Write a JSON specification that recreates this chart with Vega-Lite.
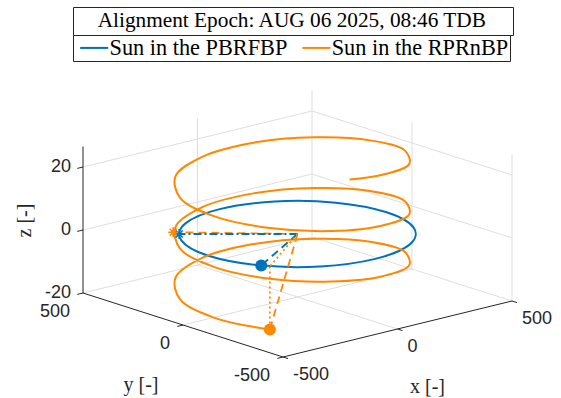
{
  "$schema": "https://vega.github.io/schema/vega-lite/v6.json",
  "width": 561,
  "height": 398,
  "autosize": "none",
  "padding": 0,
  "background": "white",
  "config": {"view": {"stroke": null}},
  "datasets": {
    "grid": [
      {"x1": 0, "y1": -500, "z1": -20, "x2": 0, "y2": 500, "z2": -20},
      {"x1": -500, "y1": 0, "z1": -20, "x2": 500, "y2": 0, "z2": -20},
      {"x1": 500, "y1": -500, "z1": -20, "x2": 500, "y2": 500, "z2": -20},
      {"x1": -500, "y1": 500, "z1": -20, "x2": 500, "y2": 500, "z2": -20},
      {"x1": 0, "y1": 500, "z1": -20, "x2": 0, "y2": 500, "z2": 26.5},
      {"x1": 500, "y1": 500, "z1": -20, "x2": 500, "y2": 500, "z2": 26.5},
      {"x1": -500, "y1": 500, "z1": 0, "x2": 500, "y2": 500, "z2": 0},
      {"x1": -500, "y1": 500, "z1": 20, "x2": 500, "y2": 500, "z2": 20},
      {"x1": 500, "y1": 0, "z1": -20, "x2": 500, "y2": 0, "z2": 26.5},
      {"x1": 500, "y1": -500, "z1": -20, "x2": 500, "y2": -500, "z2": 26.5},
      {"x1": 500, "y1": -500, "z1": 0, "x2": 500, "y2": 500, "z2": 0},
      {"x1": 500, "y1": -500, "z1": 20, "x2": 500, "y2": 500, "z2": 20}
    ],
    "axes": [
      {"x1": -500, "y1": 500, "z1": -20, "x2": -500, "y2": 500, "z2": 26.5},
      {"x1": -500, "y1": -500, "z1": -20, "x2": -500, "y2": 500, "z2": -20},
      {"x1": -500, "y1": -500, "z1": -20, "x2": 500, "y2": -500, "z2": -20},
      {"x1": -500, "y1": -500, "z1": -20, "x2": -500, "y2": -525, "z2": -20},
      {"x1": 0, "y1": -500, "z1": -20, "x2": 0, "y2": -525, "z2": -20},
      {"x1": 500, "y1": -500, "z1": -20, "x2": 500, "y2": -525, "z2": -20},
      {"x1": -500, "y1": -500, "z1": -20, "x2": -525, "y2": -500, "z2": -20},
      {"x1": -500, "y1": 0, "z1": -20, "x2": -525, "y2": 0, "z2": -20},
      {"x1": -500, "y1": 500, "z1": -20, "x2": -525, "y2": 500, "z2": -20},
      {"x1": -500, "y1": 500, "z1": 0, "x2": -525, "y2": 500, "z2": 0},
      {"x1": -500, "y1": 500, "z1": 20, "x2": -525, "y2": 500, "z2": 20}
    ],
    "orbit": [
      {"series": "Sun in the PBRFBP", "t": 0, "x": 389, "y": 0, "z": 0},
      {"series": "Sun in the PBRFBP", "t": 1, "x": 337, "y": 195, "z": 0},
      {"series": "Sun in the PBRFBP", "t": 2, "x": 195, "y": 337, "z": 0},
      {"series": "Sun in the PBRFBP", "t": 3, "x": 0, "y": 389, "z": 0},
      {"series": "Sun in the PBRFBP", "t": 4, "x": -195, "y": 337, "z": 0},
      {"series": "Sun in the PBRFBP", "t": 5, "x": -337, "y": 195, "z": 0},
      {"series": "Sun in the PBRFBP", "t": 6, "x": -389, "y": 0, "z": 0},
      {"series": "Sun in the PBRFBP", "t": 7, "x": -337, "y": -195, "z": 0},
      {"series": "Sun in the PBRFBP", "t": 8, "x": -195, "y": -337, "z": 0},
      {"series": "Sun in the PBRFBP", "t": 9, "x": 0, "y": -389, "z": 0},
      {"series": "Sun in the PBRFBP", "t": 10, "x": 195, "y": -337, "z": 0},
      {"series": "Sun in the PBRFBP", "t": 11, "x": 337, "y": -195, "z": 0},
      {"series": "Sun in the RPRnBP", "t": 0, "x": -319, "y": -227, "z": -20},
      {"series": "Sun in the RPRnBP", "t": 1, "x": -398, "y": -41, "z": -18.7},
      {"series": "Sun in the RPRnBP", "t": 2, "x": -373, "y": 161, "z": -17.3},
      {"series": "Sun in the RPRnBP", "t": 3, "x": -251, "y": 323, "z": -16.0},
      {"series": "Sun in the RPRnBP", "t": 4, "x": -65, "y": 402, "z": -14.6},
      {"series": "Sun in the RPRnBP", "t": 5, "x": 137, "y": 377, "z": -13.3},
      {"series": "Sun in the RPRnBP", "t": 6, "x": 299, "y": 255, "z": -12.0},
      {"series": "Sun in the RPRnBP", "t": 7, "x": 378, "y": 69, "z": -10.6},
      {"series": "Sun in the RPRnBP", "t": 8, "x": 353, "y": -133, "z": -9.3},
      {"series": "Sun in the RPRnBP", "t": 9, "x": 231, "y": -295, "z": -7.9},
      {"series": "Sun in the RPRnBP", "t": 10, "x": 45, "y": -374, "z": -6.6},
      {"series": "Sun in the RPRnBP", "t": 11, "x": -157, "y": -349, "z": -5.2},
      {"series": "Sun in the RPRnBP", "t": 12, "x": -319, "y": -227, "z": -3.9},
      {"series": "Sun in the RPRnBP", "t": 13, "x": -398, "y": -41, "z": -2.6},
      {"series": "Sun in the RPRnBP", "t": 14, "x": -373, "y": 161, "z": -1.2},
      {"series": "Sun in the RPRnBP", "t": 15, "x": -251, "y": 323, "z": 0.1},
      {"series": "Sun in the RPRnBP", "t": 16, "x": -65, "y": 402, "z": 1.5},
      {"series": "Sun in the RPRnBP", "t": 17, "x": 137, "y": 377, "z": 2.8},
      {"series": "Sun in the RPRnBP", "t": 18, "x": 299, "y": 255, "z": 4.1},
      {"series": "Sun in the RPRnBP", "t": 19, "x": 378, "y": 69, "z": 5.5},
      {"series": "Sun in the RPRnBP", "t": 20, "x": 353, "y": -133, "z": 6.8},
      {"series": "Sun in the RPRnBP", "t": 21, "x": 231, "y": -295, "z": 8.2},
      {"series": "Sun in the RPRnBP", "t": 22, "x": 45, "y": -374, "z": 9.5},
      {"series": "Sun in the RPRnBP", "t": 23, "x": -157, "y": -349, "z": 10.8},
      {"series": "Sun in the RPRnBP", "t": 24, "x": -319, "y": -227, "z": 12.2},
      {"series": "Sun in the RPRnBP", "t": 25, "x": -398, "y": -41, "z": 13.5},
      {"series": "Sun in the RPRnBP", "t": 26, "x": -373, "y": 161, "z": 14.9},
      {"series": "Sun in the RPRnBP", "t": 27, "x": -251, "y": 323, "z": 16.2},
      {"series": "Sun in the RPRnBP", "t": 28, "x": -65, "y": 402, "z": 17.5},
      {"series": "Sun in the RPRnBP", "t": 29, "x": 137, "y": 377, "z": 18.9},
      {"series": "Sun in the RPRnBP", "t": 30, "x": 299, "y": 255, "z": 20.2},
      {"series": "Sun in the RPRnBP", "t": 31, "x": 378, "y": 69, "z": 21.6},
      {"series": "Sun in the RPRnBP", "t": 32, "x": 353, "y": -133, "z": 22.9},
      {"series": "Sun in the RPRnBP", "t": 33, "x": 231, "y": -295, "z": 24.2},
      {"series": "Sun in the RPRnBP", "t": 34, "x": 45, "y": -374, "z": 25.6},
      {"series": "Sun in the RPRnBP", "t": 35, "x": -95, "y": -369, "z": 26.5}
    ],
    "rays": [
      {"series": "Sun in the RPRnBP", "style": "dash", "x1": 0, "y1": 0, "z1": 0, "x2": -306, "y2": 271, "z2": 0.5},
      {"series": "Sun in the PBRFBP", "style": "dashdot", "x1": 0, "y1": 0, "z1": 0, "x2": -293, "y2": 256, "z2": 0},
      {"series": "Sun in the PBRFBP", "style": "dash", "x1": 0, "y1": 0, "z1": 0, "x2": -333, "y2": -200, "z2": 0},
      {"series": "Sun in the RPRnBP", "style": "dash", "x1": 0, "y1": 0, "z1": 0, "x2": -319, "y2": -227, "z2": -20},
      {"series": "Sun in the RPRnBP", "style": "dot", "x1": 0, "y1": 0, "z1": 0, "x2": -319, "y2": -227, "z2": 0},
      {"series": "Sun in the RPRnBP", "style": "dot", "x1": -319, "y1": -227, "z1": 0, "x2": -319, "y2": -227, "z2": -20}
    ],
    "markers": [
      {"series": "Sun in the PBRFBP", "kind": "dot", "x": -333, "y": -200, "z": 0},
      {"series": "Sun in the RPRnBP", "kind": "dot", "x": -319, "y": -227, "z": -20},
      {"series": "Sun in the PBRFBP", "kind": "star", "x": -293, "y": 256, "z": 0},
      {"series": "Sun in the RPRnBP", "kind": "star", "x": -306, "y": 271, "z": 0.5}
    ],
    "ticklabels": [
      {"axis": "z", "label": "-20", "x": -500, "y": 500, "z": -20},
      {"axis": "z", "label": "0", "x": -500, "y": 500, "z": 0},
      {"axis": "z", "label": "20", "x": -500, "y": 500, "z": 20},
      {"axis": "y", "label": "-500", "x": -500, "y": -500, "z": -20},
      {"axis": "y", "label": "0", "x": -500, "y": 0, "z": -20},
      {"axis": "y", "label": "500", "x": -500, "y": 500, "z": -20},
      {"axis": "x", "label": "-500", "x": -500, "y": -500, "z": -20},
      {"axis": "x", "label": "0", "x": 0, "y": -500, "z": -20},
      {"axis": "x", "label": "500", "x": 500, "y": -500, "z": -20}
    ],
    "titles": [
      {"axis": "x", "label": "x [-]", "x": 0, "y": -500, "z": -20},
      {"axis": "y", "label": "y [-]", "x": -500, "y": 0, "z": -20},
      {"axis": "z", "label": "z [-]", "x": -500, "y": 500, "z": 3}
    ]
  },
  "encoding": {
    "x": {"field": "u", "type": "quantitative", "scale": {"domain": [-297.5, 263.5], "nice": false, "zero": false}, "axis": null},
    "y": {"field": "v", "type": "quantitative", "scale": {"domain": [-164, 234], "nice": false, "zero": false}, "axis": null}
  },
  "layer": [
    {
      "data": {"name": "grid"},
      "transform": [
        {"calculate": "0.229*datum.x1 - 0.2*datum.y1", "as": "u"},
        {"calculate": "0.056*datum.x1 + 0.064*datum.y1 + 3.15*datum.z1", "as": "v"},
        {"calculate": "0.229*datum.x2 - 0.2*datum.y2", "as": "u2"},
        {"calculate": "0.056*datum.x2 + 0.064*datum.y2 + 3.15*datum.z2", "as": "v2"}
      ],
      "mark": {"type": "rule", "color": "#DEDEDE", "strokeWidth": 1},
      "encoding": {"x2": {"field": "u2"}, "y2": {"field": "v2"}}
    },
    {
      "data": {"name": "axes"},
      "transform": [
        {"calculate": "0.229*datum.x1 - 0.2*datum.y1", "as": "u"},
        {"calculate": "0.056*datum.x1 + 0.064*datum.y1 + 3.15*datum.z1", "as": "v"},
        {"calculate": "0.229*datum.x2 - 0.2*datum.y2", "as": "u2"},
        {"calculate": "0.056*datum.x2 + 0.064*datum.y2 + 3.15*datum.z2", "as": "v2"}
      ],
      "mark": {"type": "rule", "color": "#262626", "strokeWidth": 1},
      "encoding": {"x2": {"field": "u2"}, "y2": {"field": "v2"}}
    },
    {
      "data": {"name": "orbit"},
      "transform": [
        {"filter": "datum.series === 'Sun in the PBRFBP'"},
        {"calculate": "0.229*datum.x - 0.2*datum.y", "as": "u"},
        {"calculate": "0.056*datum.x + 0.064*datum.y + 3.15*datum.z", "as": "v"}
      ],
      "mark": {"type": "line", "interpolate": "cardinal-closed", "tension": 0, "strokeWidth": 2},
      "encoding": {
        "order": {"field": "t", "type": "quantitative"},
        "color": {"field": "series", "type": "nominal",
          "scale": {"domain": ["Sun in the PBRFBP", "Sun in the RPRnBP"], "range": ["#0072BD", "#FF8800"]},
          "legend": {"orient": "none", "legendX": 73, "legendY": 35, "direction": "horizontal", "title": null, "padding": 1.5, "strokeColor": "#262626", "fillColor": "white", "symbolType": "M-2.8,0H2.8", "symbolSize": 100, "symbolOffset": 8.5, "symbolStrokeWidth": 2, "labelFont": "Liberation Serif", "labelFontSize": 22.3, "labelColor": "black", "labelOffset": 4.2, "columnPadding": 9.2, "labelLimit": 1000}}
      }
    },
    {
      "data": {"name": "orbit"},
      "transform": [
        {"filter": "datum.series === 'Sun in the RPRnBP'"},
        {"calculate": "0.229*datum.x - 0.2*datum.y", "as": "u"},
        {"calculate": "0.056*datum.x + 0.064*datum.y + 3.15*datum.z", "as": "v"}
      ],
      "mark": {"type": "line", "interpolate": "catmull-rom", "strokeWidth": 2},
      "encoding": {
        "order": {"field": "t", "type": "quantitative"},
        "color": {"field": "series", "type": "nominal",
          "scale": {"domain": ["Sun in the PBRFBP", "Sun in the RPRnBP"], "range": ["#0072BD", "#FF8800"]},
          "legend": {"orient": "none", "legendX": 73, "legendY": 35, "direction": "horizontal", "title": null, "padding": 1.5, "strokeColor": "#262626", "fillColor": "white", "symbolType": "M-2.8,0H2.8", "symbolSize": 100, "symbolOffset": 8.5, "symbolStrokeWidth": 2, "labelFont": "Liberation Serif", "labelFontSize": 22.3, "labelColor": "black", "labelOffset": 4.2, "columnPadding": 9.2, "labelLimit": 1000}}
      }
    },
    {
      "data": {"name": "rays"},
      "transform": [
        {"calculate": "0.229*datum.x1 - 0.2*datum.y1", "as": "u"},
        {"calculate": "0.056*datum.x1 + 0.064*datum.y1 + 3.15*datum.z1", "as": "v"},
        {"calculate": "0.229*datum.x2 - 0.2*datum.y2", "as": "u2"},
        {"calculate": "0.056*datum.x2 + 0.064*datum.y2 + 3.15*datum.z2", "as": "v2"}
      ],
      "mark": {"type": "rule", "strokeWidth": 1.8},
      "encoding": {
        "x2": {"field": "u2"}, "y2": {"field": "v2"},
        "stroke": {"field": "series", "type": "nominal", "scale": {"domain": ["Sun in the PBRFBP", "Sun in the RPRnBP"], "range": ["#0072BD", "#FF8800"]}, "legend": null},
        "strokeDash": {"field": "style", "type": "nominal", "scale": {"domain": ["dash", "dashdot", "dot"], "range": [[8, 5], [8, 3, 2, 3], [2, 3]]}, "legend": null}
      }
    },
    {
      "data": {"name": "markers"},
      "transform": [
        {"filter": "datum.kind === 'dot'"},
        {"calculate": "0.229*datum.x - 0.2*datum.y", "as": "u"},
        {"calculate": "0.056*datum.x + 0.064*datum.y + 3.15*datum.z", "as": "v"}
      ],
      "mark": {"type": "point", "filled": true, "size": 144, "opacity": 1, "strokeWidth": 0},
      "encoding": {
        "fill": {"field": "series", "type": "nominal", "scale": {"domain": ["Sun in the PBRFBP", "Sun in the RPRnBP"], "range": ["#0072BD", "#FF8800"]}, "legend": null}
      }
    },
    {
      "data": {"name": "markers"},
      "transform": [
        {"filter": "datum.kind === 'star'"},
        {"calculate": "0.229*datum.x - 0.2*datum.y", "as": "u"},
        {"calculate": "0.056*datum.x + 0.064*datum.y + 3.15*datum.z", "as": "v"}
      ],
      "mark": {"type": "point", "filled": false, "size": 100, "opacity": 1, "strokeWidth": 1.6, "shape": "M-1,0L1,0M0,-1L0,1M-0.7,-0.7L0.7,0.7M-0.7,0.7L0.7,-0.7"},
      "encoding": {
        "stroke": {"field": "series", "type": "nominal", "scale": {"domain": ["Sun in the PBRFBP", "Sun in the RPRnBP"], "range": ["#0072BD", "#FF8800"]}, "legend": null}
      }
    },
    {
      "data": {"name": "ticklabels"},
      "transform": [
        {"filter": "datum.axis === 'z'"},
        {"calculate": "0.229*datum.x - 0.2*datum.y", "as": "u"},
        {"calculate": "0.056*datum.x + 0.064*datum.y + 3.15*datum.z", "as": "v"}
      ],
      "mark": {"type": "text", "align": "right", "baseline": "middle", "dx": -12, "font": "Liberation Sans", "fontSize": 18, "color": "#262626"},
      "encoding": {"text": {"field": "label"}}
    },
    {
      "data": {"name": "ticklabels"},
      "transform": [
        {"filter": "datum.axis === 'y'"},
        {"calculate": "0.229*datum.x - 0.2*datum.y", "as": "u"},
        {"calculate": "0.056*datum.x + 0.064*datum.y + 3.15*datum.z", "as": "v"}
      ],
      "mark": {"type": "text", "align": "right", "baseline": "middle", "dx": -13, "dy": 18.5, "font": "Liberation Sans", "fontSize": 18, "color": "#262626"},
      "encoding": {"text": {"field": "label"}}
    },
    {
      "data": {"name": "ticklabels"},
      "transform": [
        {"filter": "datum.axis === 'x'"},
        {"calculate": "0.229*datum.x - 0.2*datum.y", "as": "u"},
        {"calculate": "0.056*datum.x + 0.064*datum.y + 3.15*datum.z", "as": "v"}
      ],
      "mark": {"type": "text", "align": "left", "baseline": "middle", "dx": 10, "dy": 18, "font": "Liberation Sans", "fontSize": 18, "color": "#262626"},
      "encoding": {"text": {"field": "label"}}
    },
    {
      "data": {"name": "titles"},
      "transform": [
        {"filter": "datum.axis === 'x'"},
        {"calculate": "0.229*datum.x - 0.2*datum.y", "as": "u"},
        {"calculate": "0.056*datum.x + 0.064*datum.y + 3.15*datum.z", "as": "v"}
      ],
      "mark": {"type": "text", "align": "center", "baseline": "middle", "dx": 30, "dy": 58, "font": "Liberation Serif", "fontSize": 20, "color": "#262626"},
      "encoding": {"text": {"field": "label"}}
    },
    {
      "data": {"name": "titles"},
      "transform": [
        {"filter": "datum.axis === 'y'"},
        {"calculate": "0.229*datum.x - 0.2*datum.y", "as": "u"},
        {"calculate": "0.056*datum.x + 0.064*datum.y + 3.15*datum.z", "as": "v"}
      ],
      "mark": {"type": "text", "align": "center", "baseline": "middle", "dx": -42, "dy": 60, "font": "Liberation Serif", "fontSize": 20, "color": "#262626"},
      "encoding": {"text": {"field": "label"}}
    },
    {
      "data": {"name": "titles"},
      "transform": [
        {"filter": "datum.axis === 'z'"},
        {"calculate": "0.229*datum.x - 0.2*datum.y", "as": "u"},
        {"calculate": "0.056*datum.x + 0.064*datum.y + 3.15*datum.z", "as": "v"}
      ],
      "mark": {"type": "text", "align": "center", "baseline": "middle", "angle": 270, "dy": -58, "font": "Liberation Serif", "fontSize": 20, "color": "#262626"},
      "encoding": {"text": {"field": "label"}}
    },
    {
      "data": {"values": [{"epoch": "Alignment Epoch: AUG 06 2025, 08:46 TDB"}]},
      "mark": {"type": "point", "opacity": 0},
      "encoding": {
        "x": {"value": 0},
        "y": {"value": 0},
        "shape": {"field": "epoch", "type": "nominal", "legend": {"orient": "none", "legendX": 73, "legendY": 7, "title": null, "padding": 3.5, "strokeColor": "#262626", "fillColor": "white", "symbolSize": 100, "symbolStrokeWidth": 0, "symbolOpacity": 0, "symbolOffset": 417.35, "labelOffset": -223.35, "labelAlign": "center", "labelFont": "Liberation Serif", "labelFontSize": 21.3, "labelColor": "black", "labelLimit": 1000}}
      }
    }
  ]
}
